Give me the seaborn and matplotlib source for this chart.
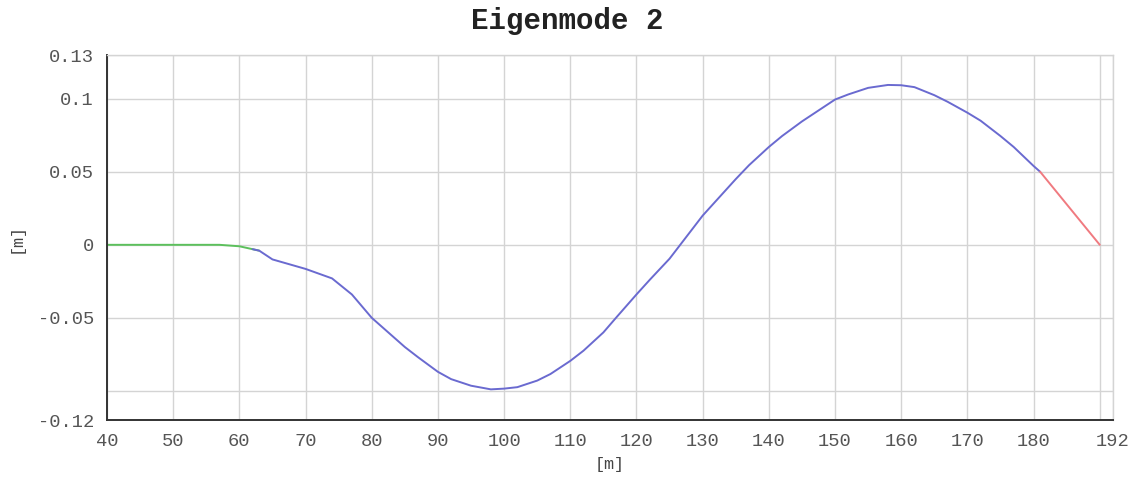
import numpy as np
import pandas as pd
import matplotlib
matplotlib.use("Agg")
import matplotlib.pyplot as plt
from matplotlib.ticker import MultipleLocator
import seaborn as sns

# Eigenmode 2 - Verschiebung entlang der Achse, drei Abschnitte
x_green = [40, 45, 50, 55, 57, 60, 63]
y_green = [0.0, 0.0, 0.0, 0.0, 0.0, -0.001, -0.004]

x_blue = [62, 63, 65, 70, 74, 77, 80, 82, 85, 87, 90, 92, 95, 98, 100, 102, 105,
          107, 110, 112, 115, 117, 120, 122, 125, 130, 132, 135, 137, 140, 142,
          145, 147, 150, 152, 155, 158, 160, 162, 165, 167, 170, 172, 175, 177,
          180, 181]
y_blue = [-0.003, -0.004, -0.01, -0.0165, -0.023, -0.034, -0.05, -0.058, -0.07,
          -0.077, -0.087, -0.092, -0.0965, -0.099, -0.0985, -0.0975, -0.093,
          -0.0885, -0.0795, -0.0725, -0.060, -0.0495, -0.034, -0.024, -0.0095,
          0.020, 0.030, 0.045, 0.0545, 0.067, 0.0745, 0.0845, 0.0905, 0.0995,
          0.103, 0.1075, 0.1095, 0.1093, 0.108, 0.1025, 0.098, 0.0905, 0.085,
          0.0745, 0.067, 0.054, 0.05]

x_red = [181, 190]
y_red = [0.05, 0.0]

x_ticks = [40, 50, 60, 70, 80, 90, 100, 110, 120, 130, 140, 150, 160, 170, 180, 190, 192]
x_labels = ["40", "50", "60", "70", "80", "90", "100", "110", "120", "130", "140",
            "150", "160", "170", "180", "", "192"]
y_ticks = [-0.12, -0.1, -0.05, 0, 0.05, 0.1, 0.13]
y_labels = ["-0.12", "", "-0.05", "0", "0.05", "0.1", "0.13"]

df = pd.concat([
    pd.DataFrame({"x": x_green, "y": y_green, "seg": "a"}),
    pd.DataFrame({"x": x_blue, "y": y_blue, "seg": "b"}),
    pd.DataFrame({"x": x_red, "y": y_red, "seg": "c"}),
])
farben = {"a": "#5cc05c", "b": "#6a6ad0", "c": "#f07a80"}

sns.set_style("white")
plt.rcParams["font.family"] = ["Liberation Mono", "DejaVu Sans Mono"]

fig = plt.figure(figsize=(11.42, 4.83), dpi=100)
ax = fig.add_axes([0.0937, 0.1304, 0.8809, 0.7557])

sns.lineplot(data=df, x="x", y="y", hue="seg", palette=farben, sort=False,
             estimator=None, linewidth=1.4, legend=False, ax=ax)

ax.set_xlim(40, 192)
ax.set_ylim(-0.12, 0.13)
ax.set_xticks(x_ticks)
ax.set_xticklabels(x_labels)
ax.set_yticks(y_ticks)
ax.set_yticklabels(y_labels)
ax.yaxis.set_minor_locator(MultipleLocator(0.01))
ax.grid(True, which="major", color="#d4d4d4", linewidth=1)
ax.set_axisbelow(True)

ax.tick_params(axis="both", which="major", labelsize=13.5, labelcolor="#555555",
               color="#333333", length=6, width=1.2)
ax.tick_params(axis="y", which="minor", color="#333333", length=4, width=1)

for s in ["left", "bottom"]:
    ax.spines[s].set_color("#333333")
    ax.spines[s].set_linewidth(1.4)
for s in ["top", "right"]:
    ax.spines[s].set_color("#d4d4d4")
    ax.spines[s].set_linewidth(1)

ax.set_xlabel("[m]", fontsize=12, color="#444444", labelpad=5)
ax.set_ylabel("[m]", fontsize=12, color="#444444", labelpad=10)
fig.suptitle("Eigenmode 2", x=0.497, y=0.985, fontsize=21, fontweight="bold",
             color="#222222")

fig.savefig("out.png", dpi=100)
